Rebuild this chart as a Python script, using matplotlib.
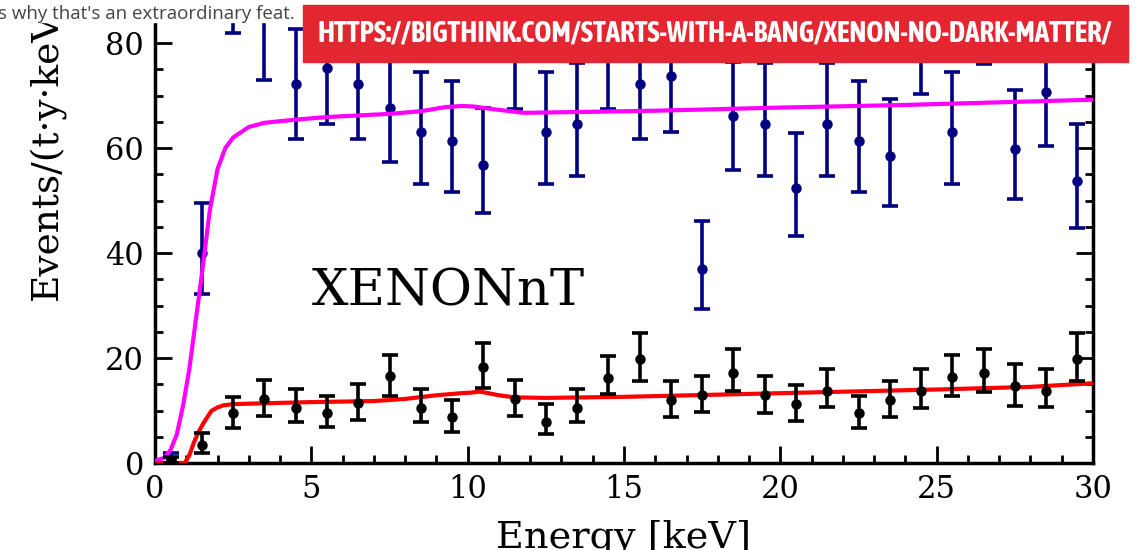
import matplotlib
matplotlib.use("Agg")
import matplotlib.pyplot as plt
from matplotlib import font_manager
from matplotlib.font_manager import FontProperties
from matplotlib.patches import Rectangle
from matplotlib.ticker import MultipleLocator

# bin centres [keV]
energy = [0.5, 1.5, 2.5, 3.5, 4.5, 5.5, 6.5, 7.5, 8.5, 9.5,
          10.5, 11.5, 12.5, 13.5, 14.5, 15.5, 16.5, 17.5, 18.5, 19.5,
          20.5, 21.5, 22.5, 23.5, 24.5, 25.5, 26.5, 27.5, 28.5, 29.5]

# XENONnT data (black)
nt_rate = [0.6, 3.4, 9.5, 12.2, 10.5, 9.5, 11.4, 16.6, 10.5, 8.8,
           18.3, 12.2, 7.8, 10.5, 16.2, 19.8, 12.0, 13.0, 17.2, 13.0,
           11.2, 13.8, 9.5, 12.0, 13.8, 16.4, 17.2, 14.6, 13.8, 19.8]
nt_err_lo = [0.6, 1.5, 2.8, 3.2, 2.7, 2.6, 3.2, 3.8, 2.7, 2.9,
             4.0, 3.2, 2.3, 2.7, 3.1, 4.2, 3.2, 3.3, 3.5, 3.5,
             3.2, 3.1, 2.8, 3.2, 3.3, 3.7, 3.6, 3.7, 3.1, 4.2]
nt_err_hi = [0.6, 2.3, 3.1, 3.6, 3.6, 3.3, 3.6, 4.0, 3.6, 3.2,
             4.6, 3.6, 3.4, 3.6, 4.2, 5.0, 3.6, 3.6, 4.5, 3.6,
             3.7, 4.1, 3.3, 3.6, 4.1, 4.1, 4.5, 4.2, 4.1, 5.0]

# blue data
b_rate = [0.5, 40.0, 93.0, 90.0, 72.2, 75.2, 72.2, 67.6, 63.0, 61.4,
          56.8, 78.0, 63.0, 64.5, 78.0, 72.2, 73.7, 36.9, 66.1, 64.5,
          52.3, 64.5, 61.4, 58.4, 80.5, 63.0, 86.0, 59.9, 70.6, 53.8]
b_err_lo = [0.5, 7.8, 11.0, 17.0, 10.5, 10.6, 10.5, 10.2, 9.8, 9.7,
            9.2, 10.6, 9.8, 9.8, 10.6, 10.5, 10.6, 7.5, 10.2, 9.8,
            9.0, 9.8, 9.7, 9.5, 10.3, 9.8, 10.0, 9.6, 10.3, 9.1]
b_err_hi = [1.5, 9.5, 11.0, 12.0, 10.5, 10.6, 10.5, 10.2, 11.5, 11.4,
            10.8, 10.6, 11.5, 11.6, 10.6, 10.5, 10.6, 9.2, 10.2, 11.6,
            10.5, 11.6, 11.4, 11.0, 10.3, 11.5, 10.0, 11.1, 10.3, 10.7]

# background models
mag_e = [0, 0.3, 0.5, 0.7, 0.9, 1.1, 1.3, 1.5, 1.75, 2.0, 2.25, 2.5, 3.0, 3.5,
         4.5, 5.5, 7.5, 8.5, 9.3, 9.8, 10.2, 10.8, 11.8, 14, 16, 20, 24, 30]
mag_v = [0.4, 1.0, 2.5, 5.5, 11, 18, 27, 36, 48, 56, 60, 62, 64, 64.8,
         65.4, 65.9, 66.5, 67.0, 67.8, 68.0, 67.9, 67.4, 66.7, 66.9, 67.1, 67.7, 68.2, 69.2]
red_e = [0, 0.95, 1.1, 1.25, 1.4, 1.55, 1.8, 2.0, 2.2, 2.5, 3.0, 5.0, 7.0, 8.0,
         9.0, 9.8, 10.1, 10.4, 11.0, 11.5, 12.5, 15, 20, 25, 28, 30]
red_v = [0, 0, 1.5, 4.0, 6.0, 7.6, 9.9, 10.6, 11.0, 11.2, 11.3, 11.6, 11.8, 12.2,
         12.9, 13.3, 13.4, 13.6, 12.9, 12.5, 12.4, 12.6, 13.3, 14.0, 14.5, 15.2]

url = "HTTPS://BIGTHINK.COM/STARTS-WITH-A-BANG/XENON-NO-DARK-MATTER/"
page_text = "s why that's an extraordinary feat."

plt.rcParams["font.family"] = "DejaVu Serif"

fig = plt.figure(figsize=(11.46, 5.5), dpi=100)
# axes reach past the top of the picture (the source image is cropped)
ax = fig.add_axes([155 / 1146, 87 / 550, 938 / 1146, 630 / 550])

ax.errorbar(energy, b_rate, yerr=[b_err_lo, b_err_hi], fmt="o", color="navy",
            ms=6.5, elinewidth=2.6, capsize=5.5, capthick=2.6, zorder=2)
ax.plot(mag_e, mag_v, color="magenta", lw=3, zorder=3)
ax.plot(red_e, red_v, color="red", lw=3, zorder=3)
ax.errorbar(energy, nt_rate, yerr=[nt_err_lo, nt_err_hi], fmt="o", color="black",
            ms=6.5, elinewidth=2.6, capsize=5.5, capthick=2.6, zorder=4)

ax.text(5, 30, "XENONnT", fontsize=37)

ax.set_xlim(0, 30)
ax.set_ylim(0, 120)
ax.xaxis.set_major_locator(MultipleLocator(5))
ax.xaxis.set_minor_locator(MultipleLocator(1))
ax.yaxis.set_major_locator(MultipleLocator(20))
ax.yaxis.set_minor_locator(MultipleLocator(5))
ax.tick_params(which="both", direction="in", left=True, right=True, top=False,
               labelsize=22, pad=8)
ax.tick_params(which="major", length=12, width=2)
ax.tick_params(which="minor", length=6, width=2)
for s in ax.spines.values():
    s.set_linewidth(2.5)

ax.set_xlabel("Energy [keV]", fontsize=27.5, labelpad=10)
ax.set_ylabel("Events/(t·y·keV)", fontsize=27, labelpad=14)

# web page strip + banner from the screenshot
fig.add_artist(Rectangle((0, 1 - 22 / 550), 1, 22 / 550, transform=fig.transFigure,
                         color="white", zorder=9))
fig.text(-0.002, 1 - 19 / 550, page_text, fontsize=13.5, color="#444444",
         family="Open Sans", va="baseline", zorder=10)
fig.add_artist(Rectangle((303 / 1146, 1 - 62 / 550), 825 / 1146, 57 / 550,
                         transform=fig.transFigure, color="#e3262f", zorder=10))

# narrow bold face if one is installed
narrow = [f for f in font_manager.fontManager.ttflist
          if ("Condensed" in f.name or "Narrow" in f.name or "condensed" in str(f.stretch))
          and str(f.weight) in ("bold", "700", "600", "semibold", "demibold")]
if narrow:
    fp = FontProperties(fname=sorted(narrow, key=lambda f: f.name)[0].fname)
else:
    fp = FontProperties(family="DejaVu Sans", weight="bold")
banner = fig.text(715 / 1146, 1 - 33 / 550, url, fontproperties=fp, fontsize=24,
                  color="white", ha="center", va="center", zorder=11)
fig.canvas.draw()
w = banner.get_window_extent().width
banner.set_fontsize(24 * 792 / w)

fig.savefig("out.png", dpi=100)
